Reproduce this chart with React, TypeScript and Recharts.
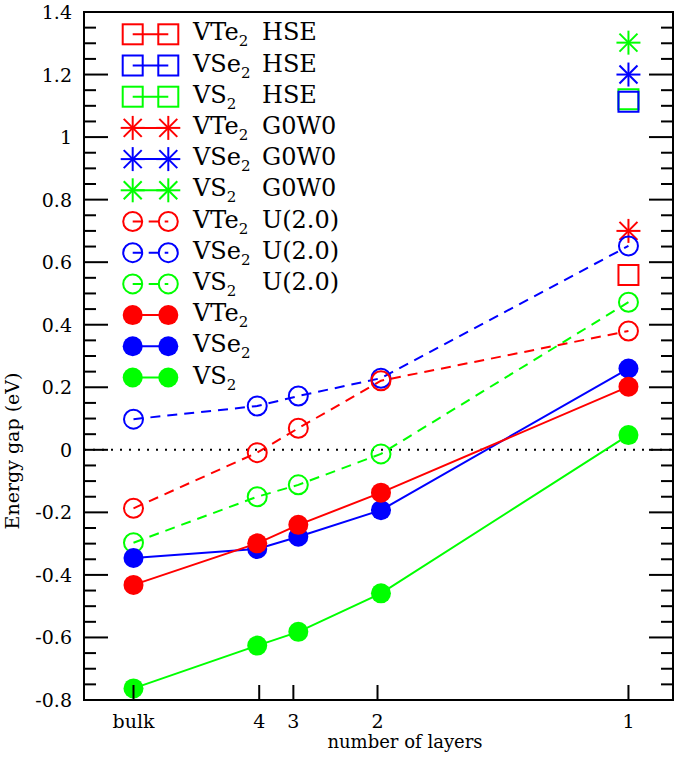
import { LineChart, Line, XAxis, YAxis, ReferenceLine, ReferenceArea } from 'recharts';

// x position of each system = 1 / (number of layers), bulk = 0
const layerX = [0, 0.25, 0.333, 0.5, 1];
const layerLabels = ['bulk', '4', '3', '2', '1'];
const layerTickX = [0, 0.254, 0.323, 0.493, 1];

// PBE (filled circles)
const vte2Pbe = [-0.432, -0.299, -0.24, -0.137, 0.202];
const vse2Pbe = [-0.346, -0.317, -0.278, -0.193, 0.26];
const vs2Pbe = [-0.763, -0.626, -0.582, -0.459, 0.047];

// PBE+U, U = 2.0 (open circles, dashed)
const vte2U = [-0.187, -0.009, 0.069, 0.221, 0.38];
const vse2U = [0.098, 0.14, 0.172, 0.229, 0.652];
const vs2U = [-0.297, -0.15, -0.112, -0.013, 0.472];

// monolayer only: [VTe2, VSe2, VS2]
const hseMono = [0.559, 1.113, 1.121];
const g0w0Mono = [0.7, 1.2, 1.302];

const yMajorTicks = [-0.8, -0.6, -0.4, -0.2, 0, 0.2, 0.4, 0.6, 0.8, 1, 1.2, 1.4];

const W = 675;
const H = 765;
const PLOT_L = 84;
const PLOT_R = 673;
const PLOT_B = 700;
const FONT = "'DejaVu Serif', serif";
const textStyle = { fontFamily: FONT };

const RED = '#ff0000';
const BLUE = '#0000ff';
const GREEN = '#00ff00';

const chartData = layerX.map((x, i) => ({
    x,
    vte2Pbe: vte2Pbe[i],
    vse2Pbe: vse2Pbe[i],
    vs2Pbe: vs2Pbe[i],
    vte2U: vte2U[i],
    vse2U: vse2U[i],
    vs2U: vs2U[i],
    vte2Hse: i === layerX.length - 1 ? hseMono[0] : null,
    vse2Hse: i === layerX.length - 1 ? hseMono[1] : null,
    vs2Hse: i === layerX.length - 1 ? hseMono[2] : null,
    vte2Gw: i === layerX.length - 1 ? g0w0Mono[0] : null,
    vse2Gw: i === layerX.length - 1 ? g0w0Mono[1] : null,
    vs2Gw: i === layerX.length - 1 ? g0w0Mono[2] : null,
}));

// minor ticks every 0.05 between the labelled ones
const yTicks: number[] = [];
yMajorTicks.forEach((t, i) => {
    yTicks.push(t);
    if (i < yMajorTicks.length - 1) {
        for (let k = 1; k < 4; k++) yTicks.push(Math.round((t + k * 0.05) * 100) / 100);
    }
});

type Kind = 'hse' | 'gw' | 'u' | 'pbe';

// legend order
const series: { key: string; formula: string; method: string; color: string; kind: Kind }[] = [
    { key: 'vte2Hse', formula: 'VTe', method: 'HSE', color: RED, kind: 'hse' },
    { key: 'vse2Hse', formula: 'VSe', method: 'HSE', color: BLUE, kind: 'hse' },
    { key: 'vs2Hse', formula: 'VS', method: 'HSE', color: GREEN, kind: 'hse' },
    { key: 'vte2Gw', formula: 'VTe', method: 'G0W0', color: RED, kind: 'gw' },
    { key: 'vse2Gw', formula: 'VSe', method: 'G0W0', color: BLUE, kind: 'gw' },
    { key: 'vs2Gw', formula: 'VS', method: 'G0W0', color: GREEN, kind: 'gw' },
    { key: 'vte2U', formula: 'VTe', method: 'U(2.0)', color: RED, kind: 'u' },
    { key: 'vse2U', formula: 'VSe', method: 'U(2.0)', color: BLUE, kind: 'u' },
    { key: 'vs2U', formula: 'VS', method: 'U(2.0)', color: GREEN, kind: 'u' },
    { key: 'vte2Pbe', formula: 'VTe', method: '', color: RED, kind: 'pbe' },
    { key: 'vse2Pbe', formula: 'VSe', method: '', color: BLUE, kind: 'pbe' },
    { key: 'vs2Pbe', formula: 'VS', method: '', color: GREEN, kind: 'pbe' },
];

// draw order: within each group the later legend entries go underneath
const drawOrder = [2, 1, 0, 5, 4, 3, 8, 7, 6, 11, 10, 9].map(i => series[i]);

function Marker({ kind, color, cx, cy }: { kind: Kind; color: string; cx: number; cy: number }) {
    if (kind === 'hse') {
        return <rect x={cx - 10} y={cy - 10} width={20} height={20} fill="none" stroke={color} strokeWidth={2} />;
    }
    if (kind === 'gw') {
        const r = 12;
        const d = 9;
        return (
            <g stroke={color} strokeWidth={2}>
                <line x1={cx - r} y1={cy} x2={cx + r} y2={cy} />
                <line x1={cx} y1={cy - r} x2={cx} y2={cy + r} />
                <line x1={cx - d} y1={cy - d} x2={cx + d} y2={cy + d} />
                <line x1={cx - d} y1={cy + d} x2={cx + d} y2={cy - d} />
            </g>
        );
    }
    if (kind === 'u') {
        return <circle cx={cx} cy={cy} r={9.5} fill="none" stroke={color} strokeWidth={2} />;
    }
    return <circle cx={cx} cy={cy} r={10} fill={color} stroke="none" />;
}

function YTick(props: any) {
    const { y, payload } = props;
    const v = payload.value as number;
    const major = yMajorTicks.some(t => Math.abs(t - v) < 1e-6);
    const len = major ? 24 : 12;
    return (
        <g>
            <line x1={PLOT_L} y1={y} x2={PLOT_L + len} y2={y} stroke="#000" strokeWidth={2} />
            <line x1={PLOT_R - len} y1={y} x2={PLOT_R} y2={y} stroke="#000" strokeWidth={2} />
            {major && (
                <text x={PLOT_L - 12} y={y + 7} textAnchor="end" fontSize={19} style={textStyle} fill="#000">
                    {String(v)}
                </text>
            )}
        </g>
    );
}

function XTick(props: any) {
    const { x, payload } = props;
    const idx = layerTickX.indexOf(payload.value);
    return (
        <g>
            <line x1={x} y1={PLOT_B} x2={x} y2={PLOT_B - 15} stroke="#000" strokeWidth={2} />
            <text x={x} y={728} textAnchor="middle" fontSize={19} style={textStyle} fill="#000">
                {layerLabels[idx]}
            </text>
        </g>
    );
}

function LegendOverlay() {
    const x1 = 132.7;
    const x2 = 168.3;
    return (
        <svg
            width={W}
            height={H}
            style={{ position: 'absolute', left: 0, top: 0, pointerEvents: 'none' }}
        >
            {series.map((s, i) => {
                const cy = 34.3 + i * 31.2;
                return (
                    <g key={s.key}>
                        <line
                            x1={x1}
                            y1={cy}
                            x2={x2}
                            y2={cy}
                            stroke={s.color}
                            strokeWidth={2}
                            strokeDasharray={s.kind === 'u' ? '10 6' : undefined}
                        />
                        <Marker kind={s.kind} color={s.color} cx={x1} cy={cy} />
                        <Marker kind={s.kind} color={s.color} cx={x2} cy={cy} />
                        <text x={193} y={cy + 6} fontSize={24} style={textStyle} fill="#000">
                            {s.formula}
                            <tspan fontSize={15} dy={6}>2</tspan>
                        </text>
                        {s.method && (
                            <text x={262} y={cy + 6} fontSize={24} style={textStyle} fill="#000">
                                {s.method}
                            </text>
                        )}
                    </g>
                );
            })}
            {/* axis titles */}
            <text x={405} y={748} textAnchor="middle" fontSize={18} style={textStyle} fill="#000">
                number of layers
            </text>
            <text
                transform="translate(19, 451) rotate(-90)"
                textAnchor="middle"
                fontSize={19}
                style={textStyle}
                fill="#000"
            >
                Energy gap (eV)
            </text>
        </svg>
    );
}

export default function App() {
    return (
        <div style={{ position: 'absolute', left: 0, top: 0, width: W, height: H, background: '#fff', fontFamily: FONT }}>
            <LineChart width={W} height={H} data={chartData} margin={{ top: 12, right: 2, left: 0, bottom: 0 }}>
                <XAxis
                    dataKey="x"
                    type="number"
                    domain={[-0.1, 1.09]}
                    ticks={layerTickX}
                    interval={0}
                    height={65}
                    axisLine={false}
                    tickLine={false}
                    tick={<XTick />}
                    allowDataOverflow
                />
                <YAxis
                    type="number"
                    domain={[-0.8, 1.4]}
                    ticks={yTicks}
                    interval={0}
                    width={84}
                    axisLine={false}
                    tickLine={false}
                    tick={<YTick />}
                    allowDataOverflow
                />
                <ReferenceLine y={0} stroke="#000" strokeWidth={2} strokeDasharray="2 7" />
                {drawOrder.map(s => (
                    <Line
                        key={s.key}
                        dataKey={s.key}
                        type="linear"
                        stroke={s.kind === 'hse' || s.kind === 'gw' ? 'none' : s.color}
                        strokeWidth={2}
                        strokeDasharray={s.kind === 'u' ? '10 7' : undefined}
                        connectNulls={false}
                        isAnimationActive={false}
                        activeDot={false}
                        dot={(p: any) =>
                            p.cy == null || p.value == null ? (
                                <g key={`${s.key}-${p.index}`} />
                            ) : (
                                <g key={`${s.key}-${p.index}`}>
                                    <Marker kind={s.kind} color={s.color} cx={p.cx} cy={p.cy} />
                                </g>
                            )
                        }
                    />
                ))}
                <ReferenceArea
                    x1={-0.1}
                    x2={1.09}
                    y1={-0.8}
                    y2={1.4}
                    fill="none"
                    stroke="#000"
                    strokeWidth={2}
                    ifOverflow="visible"
                />
            </LineChart>
            <LegendOverlay />
        </div>
    );
}
